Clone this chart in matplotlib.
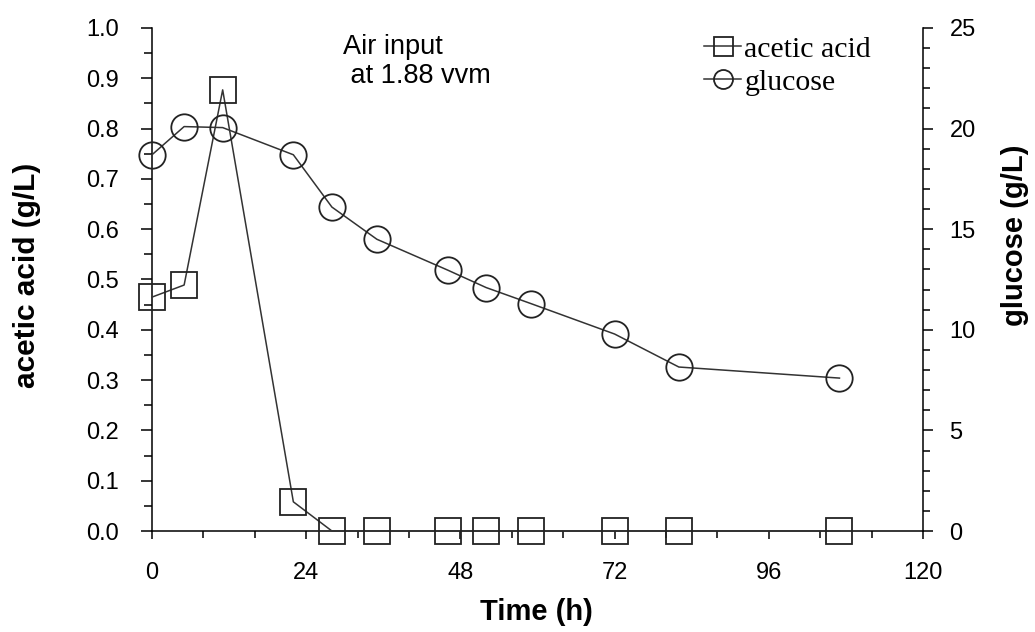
import numpy as np
import matplotlib.pyplot as plt
from matplotlib.ticker import MultipleLocator, FormatStrFormatter

plt.rcParams['font.family'] = ['Liberation Sans', 'DejaVu Sans']

# sampling times (h)
time_h = [0, 5, 11, 22, 28, 35, 46, 52, 59, 72, 82, 107]
# acetic acid (g/L), left axis
acetic = [0.465, 0.489, 0.877, 0.058, 0.0, 0.0, 0.0, 0.0, 0.0, 0.0, 0.0, 0.0]
# glucose (g/L), right axis
glucose = [18.7, 20.1, 20.05, 18.7, 16.1, 14.5, 12.97, 12.1, 11.3, 9.79, 8.15, 7.6]

W, H = 1035, 632
fig = plt.figure(figsize=(W / 100, H / 100), dpi=100)
ax = fig.add_axes([152 / W, 1 - 531 / H, (923 - 152) / W, (531 - 28) / H])
ax2 = ax.twinx()

line_kw = dict(color='#333333', lw=1.1, mfc='none', mec='#222222', mew=1.3, ms=19)
h1, = ax.plot(time_h, acetic, marker='s', label='acetic acid', clip_on=False, zorder=3, **line_kw)
h2, = ax2.plot(time_h, glucose, marker='o', label='glucose', clip_on=False, zorder=3, **line_kw)

ax.set_xlim(0, 120)
ax.set_ylim(0, 1.0)
ax2.set_ylim(0, 25)

for a in (ax, ax2):
    a.spines['top'].set_visible(False)
    for s in a.spines.values():
        s.set_linewidth(1.1)
ax.spines['right'].set_visible(False)
ax2.spines['left'].set_visible(False)
ax2.spines['bottom'].set_visible(False)

ax.xaxis.set_major_locator(MultipleLocator(24))
ax.xaxis.set_minor_locator(MultipleLocator(8))
ax.yaxis.set_major_locator(MultipleLocator(0.1))
ax.yaxis.set_minor_locator(MultipleLocator(0.05))
ax.yaxis.set_major_formatter(FormatStrFormatter('%.1f'))
ax2.yaxis.set_major_locator(MultipleLocator(5))
ax2.yaxis.set_minor_locator(MultipleLocator(1))

ax.tick_params(axis='x', which='major', direction='out', length=6, width=1.1, pad=16, labelsize=17)
ax.tick_params(axis='x', which='minor', direction='out', length=5, width=1.1)
ax.tick_params(axis='y', which='major', direction='out', length=8, width=1.1, pad=16, labelsize=17)
ax.tick_params(axis='y', which='minor', direction='out', length=6, width=1.1)
ax2.tick_params(axis='y', which='major', direction='out', length=7, width=1.1, pad=12, labelsize=17)
ax2.tick_params(axis='y', which='minor', direction='out', length=5, width=1.1)

# axis titles
fig.text(27 / W, 1 - 275 / H, 'acetic acid (g/L)', rotation=90, ha='center', va='center',
         fontsize=21.5, fontweight='bold')
fig.text(1015 / W, 1 - 235 / H, 'glucose (g/L)', rotation=90, ha='center', va='center',
         fontsize=21, fontweight='bold')
fig.text(536 / W, 1 - 612 / H, 'Time (h)', ha='center', va='center',
         fontsize=21, fontweight='bold')

fig.text(343 / W, 1 - 34 / H, 'Air input\n at 1.88 vvm', ha='left', va='top',
         fontsize=19.5, linespacing=1.15)

leg = ax2.legend([h1, h2], ['acetic acid', 'glucose'], loc='upper left',
                 bbox_to_anchor=(692 / W, 1 - 24 / H), bbox_transform=fig.transFigure,
                 frameon=False, handlelength=1.25, handletextpad=0.1, labelspacing=0.2,
                 markerscale=0.72, borderaxespad=0,
                 prop={'family': 'Liberation Serif', 'size': 21.5})

fig.savefig('out.png', dpi=100)
